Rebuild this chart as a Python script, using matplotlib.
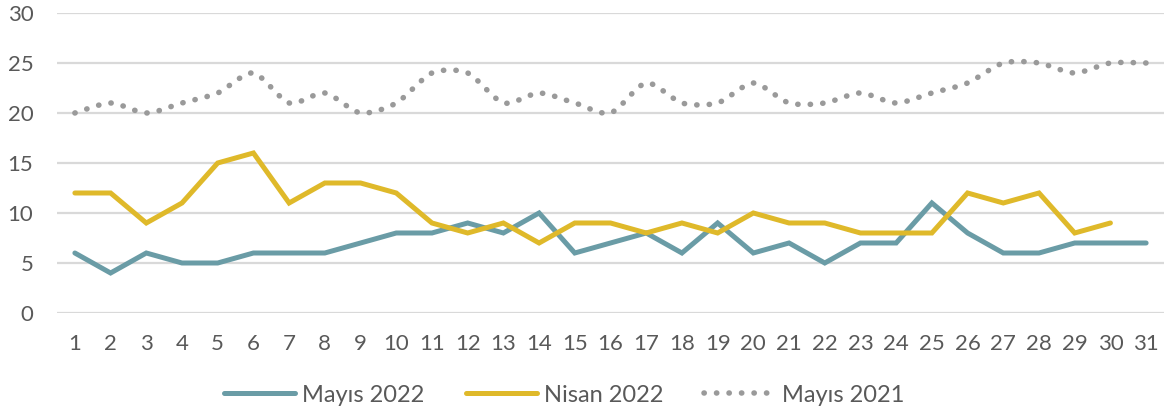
import numpy as np
import matplotlib
matplotlib.use("Agg")
import matplotlib.pyplot as plt
from matplotlib.path import Path
from matplotlib.patches import PathPatch
from matplotlib.lines import Line2D

days = list(range(1, 32))
mayis_2022 = [6, 4, 6, 5, 5, 6, 6, 6, 7, 8, 8, 9, 8, 10, 6, 7, 8, 6, 9, 6, 7, 5, 7, 7, 11, 8, 6, 6, 7, 7, 7]
nisan_2022 = [12, 12, 9, 11, 15, 16, 11, 13, 13, 12, 9, 8, 9, 7, 9, 9, 8, 9, 8, 10, 9, 9, 8, 8, 8, 12, 11, 12, 8, 9]
mayis_2021 = [20, 21, 20, 21, 22, 24, 21, 22, 20, 21, 24, 24, 21, 22, 21, 20, 23, 21, 21, 23, 21, 21, 22, 21, 22, 23, 25, 25, 24, 25, 25]
labels = ["Mayıs 2022", "Nisan 2022", "Mayıs 2021"]
yticks = [0, 5, 10, 15, 20, 25, 30]

c_teal = "#6A9CA6"
c_yel = "#DFB92A"
c_gray = "#9A9A9A"
c_text = "#595959"

plt.rcParams['font.family'] = ['Lato', 'DejaVu Sans']

fig = plt.figure(figsize=(11.71, 4.16), dpi=100)
ax = fig.add_axes([0.0487, 0.2476, 0.9453, 0.7212])

def smooth_path(xs, ys):
    # Catmull-Rom style bezier (as in spreadsheet smoothed lines)
    pts = np.column_stack([xs, ys]).astype(float)
    verts = [pts[0]]
    codes = [Path.MOVETO]
    n = len(pts)
    k = 7.5
    for i in range(n - 1):
        p0 = pts[i - 1] if i > 0 else pts[i]
        p1 = pts[i]
        p2 = pts[i + 1]
        p3 = pts[i + 2] if i + 2 < n else pts[i + 1]
        c1 = p1 + (p2 - p0) / k
        c2 = p2 - (p3 - p1) / k
        verts += [c1, c2, p2]
        codes += [Path.CURVE4] * 3
    return Path(verts, codes)

for y in yticks:
    ax.axhline(y, color="#D9D9D9", lw=1.6, zorder=0)

dot_style = (0, (0.05, 2.2))
patch = PathPatch(smooth_path(days, mayis_2021), facecolor="none", edgecolor=c_gray,
                  lw=4.0, linestyle=dot_style, capstyle="round", zorder=2)
ax.add_patch(patch)
ax.plot(days, mayis_2022, color=c_teal, lw=3.6, solid_capstyle="round", solid_joinstyle="miter", zorder=3)
ax.plot(days[:len(nisan_2022)], nisan_2022, color=c_yel, lw=3.6, solid_capstyle="round", solid_joinstyle="miter", zorder=3)

ax.set_xlim(0.5, 31.5)
ax.set_ylim(0, 30)
ax.set_xticks(days)
ax.set_xticklabels([str(d) for d in days])
ax.set_yticks(yticks)
ax.tick_params(axis="both", length=0, labelsize=16, colors=c_text)
ax.tick_params(axis="x", pad=15)
ax.tick_params(axis="y", pad=17)
for s in ax.spines.values():
    s.set_visible(False)

handles = [
    Line2D([], [], color=c_teal, lw=3.6, solid_capstyle="round"),
    Line2D([], [], color=c_yel, lw=3.6, solid_capstyle="round"),
    Line2D([], [], color=c_gray, lw=4.0, linestyle=dot_style, dash_capstyle="round"),
]
leg = fig.legend(handles, labels, loc="center", bbox_to_anchor=(0.482, 0.05), ncol=3,
                 frameon=False, fontsize=17, handlelength=3.0, handletextpad=0.3,
                 columnspacing=1.75)
for t in leg.get_texts():
    t.set_color(c_text)

fig.savefig("out.png", dpi=100)
